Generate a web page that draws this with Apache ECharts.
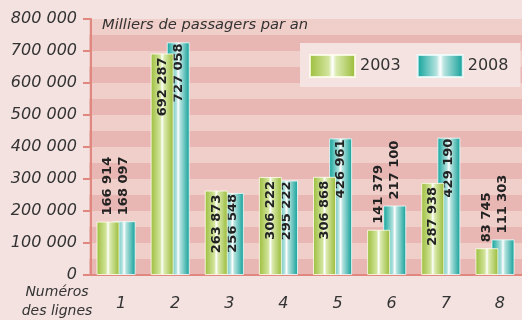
<!DOCTYPE html>
<html>
<head>
<meta charset="utf-8">
<script src="https://cdn.jsdelivr.net/npm/echarts@6/dist/echarts.min.js"></script>
<style>
  html, body { margin: 0; padding: 0; background: #f3e2e0; }
  #chart { width: 522px; height: 320px; }
</style>
</head>
<body>
<div id="chart"></div>
<script>
// Line numbers and yearly passengers (thousands)
const lines = ['1', '2', '3', '4', '5', '6', '7', '8'];
const passengers2003 = [166914, 692287, 263873, 306222, 306868, 141379, 287938, 83745];
const passengers2008 = [168097, 727058, 256548, 295222, 426961, 217100, 429190, 111303];
const yTicks = [0, 100000, 200000, 300000, 400000, 500000, 600000, 700000, 800000];
const years = ['2003', '2008'];

const FONT = 'DejaVu Sans';
const AXIS_RED = '#e0887f';

// "692287" -> "692 287"
const spaced = v => String(v).replace(/\B(?=(\d{3})+(?!\d))/g, ' ');

// Shiny cylinder-like horizontal gradients
function shine(edgeL, midL, midR, edgeR) {
  return new echarts.graphic.LinearGradient(0, 0, 1, 0, [
    { offset: 0, color: edgeL },
    { offset: 0.42, color: midL },
    { offset: 0.5, color: '#ffffff' },
    { offset: 0.58, color: midR },
    { offset: 1, color: edgeR }
  ]);
}
const greenFill = shine('#9bbd3a', '#d3e59e', '#dbeab0', '#97ba34');
const tealFill = shine('#0da29a', '#b3e2de', '#b6e3df', '#0e9e97');

// Tall bars carry their value inside the top, short bars above it
function barData(values, shiftInside) {
  return values.map(v => {
    const inside = v > 250000;
    return {
      value: v,
      label: {
        position: inside ? 'insideTop' : 'top',
        align: inside ? 'right' : 'left',
        distance: inside ? 4 : 6,
        offset: [inside ? shiftInside : 0, 0]
      }
    };
  });
}

const valueLabel = {
  show: true,
  rotate: 90,
  verticalAlign: 'middle',
  fontFamily: FONT,
  fontWeight: 'bold',
  fontSize: 13,
  color: '#222',
  formatter: p => spaced(p.value)
};

const chart = echarts.init(document.getElementById('chart'), null, { renderer: 'canvas' });

chart.setOption({
  backgroundColor: '#f3e2e0',
  animation: false,
  title: {
    text: 'Milliers de passagers par an',
    left: 102,
    top: 18,
    padding: 0,
    textStyle: { fontFamily: FONT, fontStyle: 'italic', fontWeight: 'normal', fontSize: 14.7, color: '#333' }
  },
  legend: {
    data: years,
    left: 300,
    top: 43,
    padding: [11, 12, 9, 9],
    backgroundColor: '#f4e3e1',
    itemWidth: 45,
    itemHeight: 22,
    itemGap: 16,
    icon: 'rect',
    textStyle: { fontFamily: FONT, fontSize: 16, color: '#333' }
  },
  grid: { left: 89, right: -6, top: 19, bottom: 45, containLabel: false },
  xAxis: {
    type: 'category',
    data: lines,
    axisLine: { lineStyle: { color: AXIS_RED, width: 2 } },
    axisTick: { show: false },
    axisLabel: {
      margin: 21,
      padding: [0, 0, 0, 10],
      fontFamily: FONT,
      fontStyle: 'italic',
      fontSize: 16,
      color: '#333'
    }
  },
  yAxis: [
    {
      type: 'value',
      min: yTicks[0],
      max: yTicks[yTicks.length - 1],
      interval: yTicks[1] - yTicks[0],
      offset: -2,
      axisLine: { show: true, lineStyle: { color: AXIS_RED, width: 2 } },
      axisTick: { show: true, length: 8, lineStyle: { color: AXIS_RED, width: 2 } },
      axisLabel: {
        margin: 14,
        fontFamily: FONT,
        fontStyle: 'italic',
        fontSize: 16,
        color: '#333',
        formatter: v => spaced(v)
      },
      splitLine: { show: false }
    },
    {
      // half-step striped background
      type: 'value',
      min: yTicks[0],
      max: yTicks[yTicks.length - 1],
      interval: (yTicks[1] - yTicks[0]) / 2,
      axisLine: { show: false },
      axisTick: { show: false },
      axisLabel: { show: false },
      splitLine: { show: false },
      splitArea: { show: true, areaStyle: { color: ['#e8b7b3', '#f0cec9'] } }
    }
  ],
  series: [
    {
      name: years[0],
      type: 'bar',
      z: 3,
      barWidth: 23,
      barGap: '-30%',
      data: barData(passengers2003, 0),
      itemStyle: { color: greenFill, borderColor: 'rgba(255,255,240,0.8)', borderWidth: 1 },
      label: valueLabel
    },
    {
      name: years[1],
      type: 'bar',
      z: 2,
      barWidth: 23,
      barGap: '-30%',
      data: barData(passengers2008, 3),
      itemStyle: { color: tealFill, borderColor: 'rgba(240,255,255,0.8)', borderWidth: 1 },
      label: valueLabel
    }
  ],
  graphic: [
    {
      type: 'text',
      x: 57,
      y: 302,
      style: {
        text: 'Numéros\ndes lignes',
        fontFamily: FONT,
        fontStyle: 'italic',
        fontSize: 14,
        lineHeight: 19,
        fill: '#333',
        align: 'center',
        verticalAlign: 'middle'
      }
    }
  ]
});
</script>
</body>
</html>
